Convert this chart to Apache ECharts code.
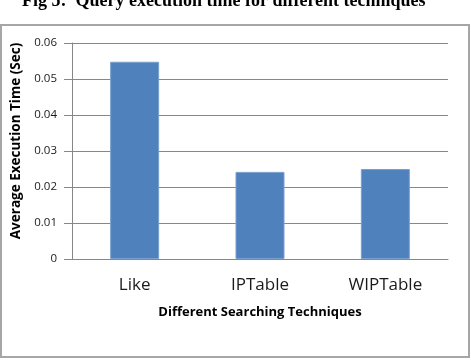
<!DOCTYPE html>
<html>
<head>
<meta charset="utf-8">
<script src="https://cdn.jsdelivr.net/npm/echarts@6/dist/echarts.min.js"></script>
<style>
  html, body { margin: 0; padding: 0; background: #fff; }
  #main { width: 471px; height: 362px; }
</style>
</head>
<body>
<div id="main"></div>
<script>
// 数据
const techniques = ['Like', 'IPTable', 'WIPTable'];
const avgTimes = [0.0548, 0.0242, 0.0250];
const yTicks = ['0', '0.01', '0.02', '0.03', '0.04', '0.05', '0.06'];

const chart = echarts.init(document.getElementById('main'));

const option = {
  animation: false,
  backgroundColor: '#fff',
  title: {
    text: 'Fig 5:  Query execution time for different techniques',
    left: 17,
    top: -13,
    textStyle: {
      fontFamily: 'Liberation Serif',
      fontWeight: 'bold',
      fontSize: 18,
      color: '#000'
    }
  },
  // 外框
  graphic: [
    {
      type: 'rect',
      shape: { x: 1, y: 25, width: 468, height: 332 },
      style: { fill: 'none', stroke: '#a6a6a6', lineWidth: 2 },
      silent: true
    }
  ],
  grid: {
    left: 72,
    right: 23,
    top: 43,
    bottom: 103
  },
  xAxis: {
    type: 'category',
    data: techniques,
    name: 'Different Searching Techniques',
    nameLocation: 'middle',
    nameGap: 47,
    nameTextStyle: {
      fontFamily: 'Open Sans',
      fontWeight: 'bold',
      fontSize: 13,
      color: '#000'
    },
    axisLine: { lineStyle: { color: '#878787', width: 1 } },
    axisTick: { show: false },
    axisLabel: {
      fontFamily: 'Open Sans',
      fontSize: 17,
      color: '#1a1a1a',
      margin: 18
    }
  },
  yAxis: {
    type: 'value',
    min: 0,
    max: 0.06,
    interval: 0.01,
    name: 'Average Execution Time (Sec)',
    nameLocation: 'middle',
    nameGap: 43,
    nameTextStyle: {
      fontFamily: 'Open Sans',
      fontWeight: 'bold',
      fontSize: 13.5,
      color: '#000',
      padding: [0, 0, 0, 20]
    },
    axisLine: { show: true, lineStyle: { color: '#878787', width: 1 } },
    axisTick: { show: true, length: 8, lineStyle: { color: '#878787' } },
    splitLine: { lineStyle: { color: '#878787', width: 1 } },
    axisLabel: {
      fontFamily: 'Open Sans',
      fontSize: 11.5,
      color: '#1a1a1a',
      margin: 15,
      formatter: (v) => yTicks[Math.round(v * 100)]
    }
  },
  series: [
    {
      name: 'Average Execution Time',
      type: 'bar',
      data: avgTimes,
      barWidth: 49,
      itemStyle: {
        color: '#4f81bd',
        borderColor: '#7aa0cf',
        borderWidth: 1
      }
    }
  ]
};

chart.setOption(option);
</script>
</body>
</html>
